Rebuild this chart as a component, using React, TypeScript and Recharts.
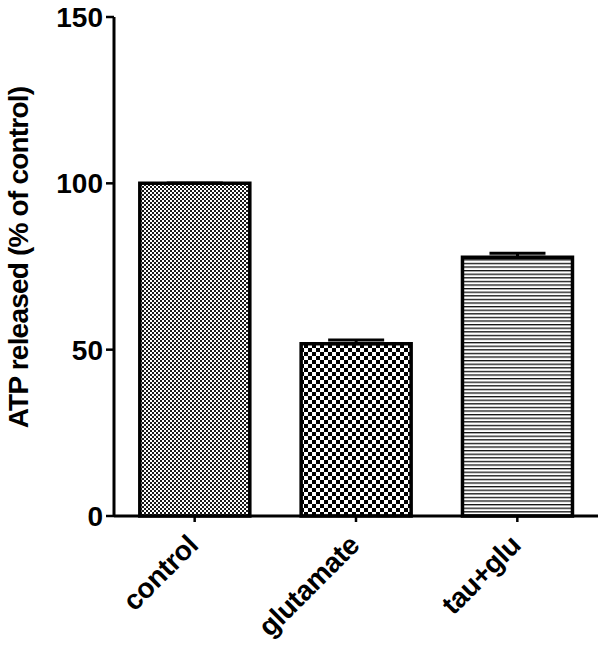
import React from 'react';
import { BarChart, Bar, XAxis, YAxis, ErrorBar, Cell, Label } from 'recharts';

const categories = ['control', 'glutamate', 'tau+glu'];
const values = [100, 51.8, 77.8];
const upperErrors = [0, 1.1, 1.2];
const yTicks = [0, 50, 100, 150];
const patternIds = ['pCtrl', 'pGlu', 'pTau'];
const yLabel = 'ATP released (% of control)';

const data = categories.map((name, i) => ({
  name,
  value: values[i],
  err: [0, upperErrors[i]],
}));

const FONT = '"Liberation Sans", Arial, sans-serif';

const XTick = (props: any) => {
  const { x, y, payload } = props;
  const px = x + 5;
  const py = y + 23;
  return (
    <text
      x={px}
      y={py}
      textAnchor="end"
      transform={`rotate(-45, ${px}, ${py})`}
      fontFamily={FONT}
      fontSize={28}
      fontWeight="bold"
      letterSpacing={-0.4}
      fill="#000"
    >
      {payload.value}
    </text>
  );
};

const YLabel = (props: any) => {
  const { viewBox } = props;
  const cx = viewBox.x + 28;
  const cy = viewBox.y + viewBox.height / 2 - 9;
  return (
    <text
      x={cx}
      y={cy}
      textAnchor="middle"
      transform={`rotate(-90, ${cx}, ${cy})`}
      fontFamily={FONT}
      fontSize={28}
      fontWeight="bold"
      letterSpacing={-0.8}
      fill="#000"
    >
      {yLabel}
    </text>
  );
};

export default function App() {
  return (
    <div style={{ position: 'absolute', left: 0, top: 0, background: '#fff' }}>
      <BarChart
        width={600}
        height={646}
        data={data}
        margin={{ top: 17, right: 2, bottom: 0, left: 0 }}
        barCategoryGap="16%"
      >
        <defs>
          <pattern id="pCtrl" width={4} height={4} patternUnits="userSpaceOnUse">
            <rect x={0} y={0} width={4} height={4} fill="#fff" />
            <rect x={0} y={0} width={2} height={2} fill="#1a1a1a" />
            <rect x={2} y={2} width={2} height={2} fill="#1a1a1a" />
          </pattern>
          <pattern id="pGlu" width={8} height={8} patternUnits="userSpaceOnUse">
            <rect x={0} y={0} width={8} height={8} fill="#fff" />
            <rect x={0} y={0} width={4} height={4} fill="#000" />
            <rect x={4} y={4} width={4} height={4} fill="#000" />
          </pattern>
          <pattern id="pTau" width={8} height={3.6} patternUnits="userSpaceOnUse">
            <rect x={0} y={0} width={8} height={3.6} fill="#fff" />
            <rect x={0} y={0} width={8} height={1.3} fill="#111" />
          </pattern>
        </defs>
        <XAxis
          dataKey="name"
          height={130}
          tick={<XTick />}
          tickSize={6}
          tickMargin={2}
          interval={0}
          axisLine={{ stroke: '#000', strokeWidth: 3 }}
          tickLine={{ stroke: '#000', strokeWidth: 2.5 }}
        />
        <YAxis
          width={114}
          domain={[0, 150]}
          ticks={yTicks}
          interval={0}
          tickSize={8}
          tickMargin={3}
          tick={{ fill: '#000', fontSize: 28, fontWeight: 'bold', fontFamily: FONT }}
          axisLine={{ stroke: '#000', strokeWidth: 3 }}
          tickLine={{ stroke: '#000', strokeWidth: 2.5 }}
        >
          <Label content={<YLabel />} />
        </YAxis>
        <Bar dataKey="value" stroke="#000" strokeWidth={3.5} isAnimationActive={false}>
          {data.map((d, i) => (
            <Cell key={d.name} fill={`url(#${patternIds[i]})`} />
          ))}
          <ErrorBar dataKey="err" width={28} stroke="#000" strokeWidth={3} direction="y" isAnimationActive={false} />
        </Bar>
      </BarChart>
    </div>
  );
}
